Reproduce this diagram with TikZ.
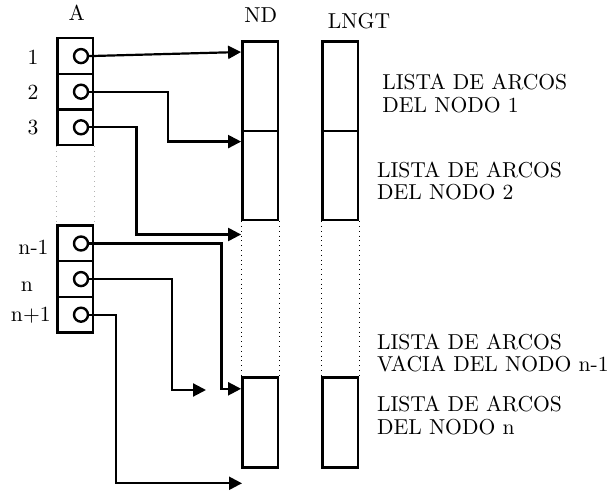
\documentclass[tikz,border=0pt]{standalone}
\usetikzlibrary{arrows.meta,calc}
\begin{document}
\begin{tikzpicture}[x=0.5pt,y=-0.5pt,
  every node/.style={font=\fontsize{10.8}{11.35}\selectfont, inner sep=0pt},
  cell/.style={draw, line width=1.2pt, minimum width=17.85pt, minimum height=17.8pt},
  port/.style={draw, circle, line width=1.2pt, minimum size=7pt},
  bar/.style={draw, line width=1.2pt, minimum width=17.7pt, minimum height=44.6pt},
  arr/.style={line width=1.1pt, -{Triangle[length=6.5pt,width=6.5pt]}},
  gdot/.style={dotted, gray!60, line width=0.5pt},
  kdot/.style={dotted, black, line width=0.4pt},
  txt/.style={anchor=base west}
]
\useasboundingbox (0,0) rectangle (612,491);

% headers
\node[anchor=base] (hA) at (76.7,20.7) {A};
\node[anchor=base] (hND) at (260.8,22.7) {ND};
\node[anchor=base] (hL) at (359,28.3) {LNGT};

% array A
\foreach \i/\y in {1/56.1,2/91.7,3/127.3,4/243.5,5/279.1,6/314.7}{
  \node[cell] (a\i) at (75.2,\y) {};
  \node[port] (c\i) at (81,\y) {};
}
\node[anchor=base] (l1) at (33,64.3) {1};
\node[anchor=base] (l2) at (33,100) {2};
\node[anchor=base] (l3) at (33,135) {3};
\node[anchor=base] (l4) at (33.5,254.3) {n-1};
\node[anchor=base] (l5) at (27,291.7) {n};
\node[anchor=base] (l6) at (30.8,321.7) {n+1};

\draw[gdot] (a3.south west) -- (a4.north west);
\draw[gdot] (a3.south east) -- (a4.north east);

% ND and LNGT
\node[bar] (nd1) at (260,86.2) {};
\node[bar] (nd2) at (260,175.4) {};
\node[bar, minimum height=45pt] (nd3) at (260,422.7) {};
\node[bar] (lg1) at (340.2,86.2) {};
\node[bar] (lg2) at (340.2,175.4) {};
\node[bar, minimum height=45pt] (lg3) at (340.2,422.7) {};

\draw[kdot] (nd2.south west) -- (nd3.north west);
\draw[kdot] (nd2.south east) -- (nd3.north east);
\draw[kdot] (lg2.south west) -- (lg3.north west);
\draw[kdot] (lg2.south east) -- (lg3.north east);

% targets
\coordinate (t1) at ($(nd1.north west)+(0,11.6)$);
\coordinate (t2) at ($(nd2.north west)+(0,12)$);
\coordinate (t3) at ($(nd2.south west)+(0,13.3)$);
\coordinate (t4) at ($(nd3.north west)+(0,12.3)$);
\coordinate (e5) at (206,390);
\coordinate (e6) at (242,483.3);

\draw[arr] (c1.east) -- (t1);
\draw[arr] (c2.east) -- ++(79,0) |- (t2);
\draw[arr] (c3.east) -- ++(47.3,0) |- (t3);
\draw[arr] (c4.east) -- ++(132.3,0) |- (t4);
\draw[arr] (c5.east) -- ++(83,0) |- (e5);
\draw[arr] (c6.east) -- ++(26.6,0) |- (e6);

% texts
\node[txt] (x1) at (382,90) {\begin{tabular}[t]{@{}l@{}}LISTA DE ARCOS\\DEL NODO 1\end{tabular}};
\node[txt] (x2) at (376.7,177.3) {\begin{tabular}[t]{@{}l@{}}LISTA DE ARCOS\\DEL NODO 2\end{tabular}};
\node[txt] (x3) at (376.7,349.3) {\begin{tabular}[t]{@{}l@{}}LISTA DE ARCOS\\VACIA DEL NODO n-1\end{tabular}};
\node[txt] (x4) at (376.7,411.7) {\begin{tabular}[t]{@{}l@{}}LISTA DE ARCOS\\DEL NODO n\end{tabular}};
\end{tikzpicture}
\end{document}
